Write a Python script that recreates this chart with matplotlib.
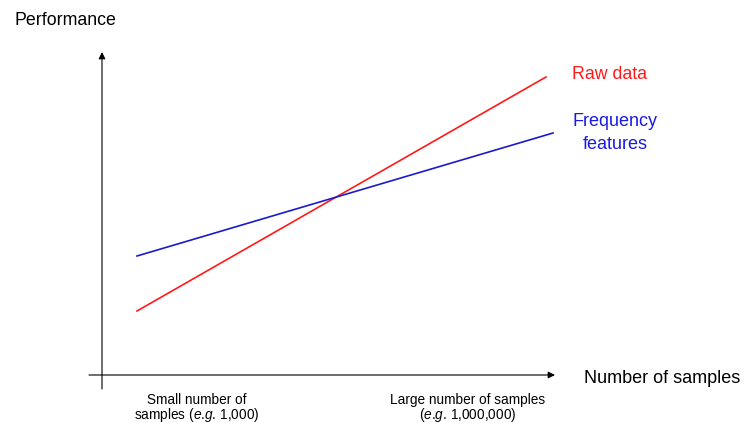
"""Conceptual chart: performance of raw data vs frequency features against sample count."""
import matplotlib
matplotlib.use('Agg')
from matplotlib import pyplot as plt

plt.rcParams['font.family'] = ['Liberation Sans', 'DejaVu Sans']
plt.rcParams['mathtext.fontset'] = 'custom'
plt.rcParams['mathtext.rm'] = 'Liberation Sans'
plt.rcParams['mathtext.it'] = 'Liberation Sans:italic'

# Canvas units (figure pixels, y measured upwards)
W, H = 745, 423

# Series (sample axis position, performance)
raw_x = [137, 546]
raw_perf = [112, 346]
freq_x = [137, 553]
freq_perf = [167, 290]

# x-axis annotations, one entry per line
small_lines = ['Small number of', 'samples ($e$.$g$. 1,000)']
large_lines = ['Large number of samples', '($e$.$g$. 1,000,000)']

RAW_COLOR = '#FF1A1A'
FREQ_COLOR = '#1A1ACC'

fig = plt.figure(figsize=(W / 100, H / 100), dpi=100)
fig.patch.set_facecolor('white')
ax = fig.add_axes([0, 0, 1, 1])
ax.set_xlim(0, W)
ax.set_ylim(0, H)
ax.axis('off')

# Axes with arrow heads
arrow = dict(arrowstyle='-|>', mutation_scale=10, lw=0.8, color='black',
             shrinkA=0, shrinkB=0)
ax.annotate('', xy=(102, 371), xytext=(102, 34), arrowprops=arrow)
ax.annotate('', xy=(555, 48), xytext=(89, 48), arrowprops=arrow)

ax.plot(raw_x, raw_perf, color=RAW_COLOR, lw=1.2)
ax.plot(freq_x, freq_perf, color=FREQ_COLOR, lw=1.2)

# Labels
ax.text(14, 403, 'Performance', fontsize=12.8, ha='left', va='center')
ax.text(584, 45, 'Number of samples', fontsize=13, ha='left', va='center')
ax.text(609, 349, 'Raw data', fontsize=12.8, color=RAW_COLOR,
        ha='center', va='center')
ax.text(615, 290, 'Frequency\nfeatures', fontsize=13, color='#1A1AE6',
        ha='center', va='center', linespacing=1.4)

for i, (s, l) in enumerate(zip(small_lines, large_lines)):
    y = 19 - 15 * i
    ax.text(197, y, s, fontsize=9.8, ha='center', va='baseline')
    ax.text(468, y, l, fontsize=9.8, ha='center', va='baseline')

plt.savefig('out.png', dpi=100, facecolor='white')
